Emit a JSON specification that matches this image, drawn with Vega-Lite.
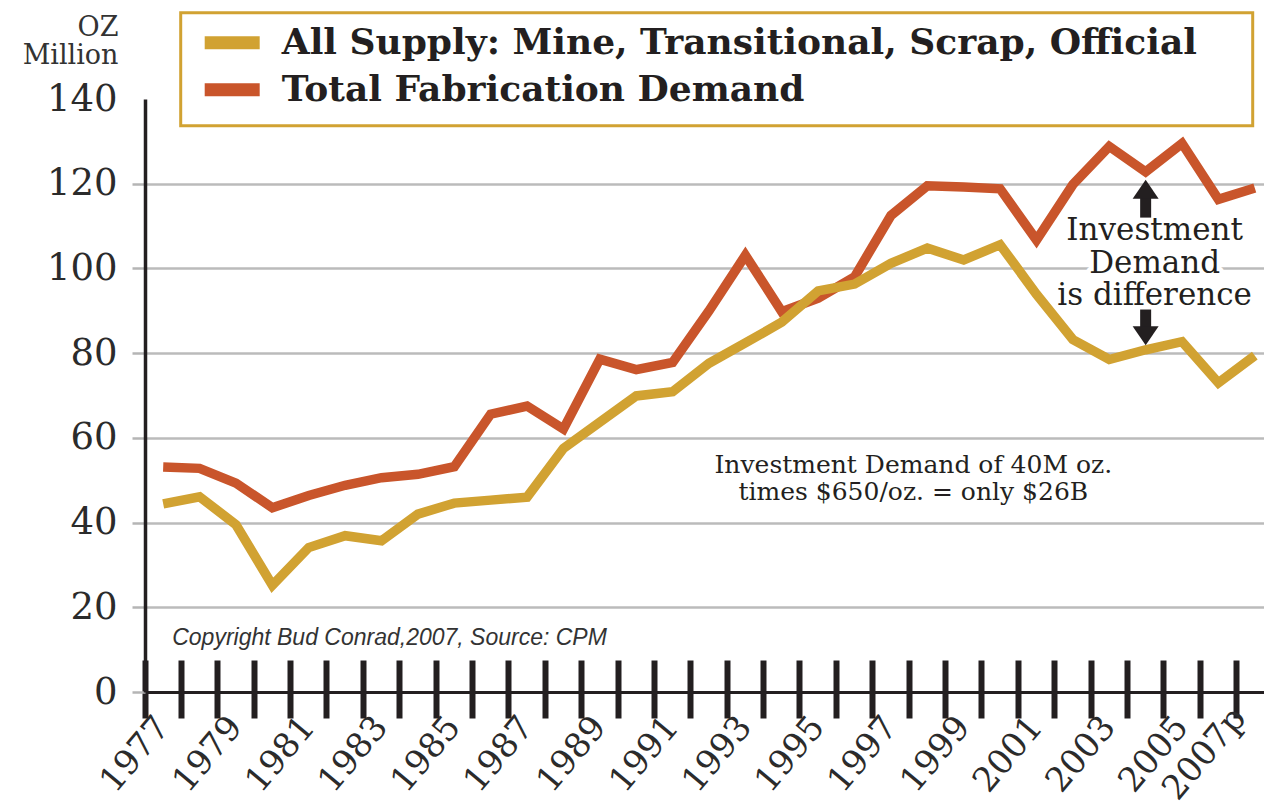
{
  "$schema": "https://vega.github.io/schema/vega-lite/v6.json",
  "width": 1119,
  "height": 593,
  "autosize": {"type": "none"},
  "padding": {"left": 145, "top": 99, "right": 0, "bottom": 113},
  "background": "white",
  "config": {"view": {"stroke": null}},
  "datasets": {
    "lines": [
      {"year": "1977", "series": "All Supply: Mine, Transitional, Scrap, Official", "value": 44.4},
      {"year": "1978", "series": "All Supply: Mine, Transitional, Scrap, Official", "value": 46.1},
      {"year": "1979", "series": "All Supply: Mine, Transitional, Scrap, Official", "value": 39.5},
      {"year": "1980", "series": "All Supply: Mine, Transitional, Scrap, Official", "value": 25.2},
      {"year": "1981", "series": "All Supply: Mine, Transitional, Scrap, Official", "value": 34.1},
      {"year": "1982", "series": "All Supply: Mine, Transitional, Scrap, Official", "value": 36.9},
      {"year": "1983", "series": "All Supply: Mine, Transitional, Scrap, Official", "value": 35.7},
      {"year": "1984", "series": "All Supply: Mine, Transitional, Scrap, Official", "value": 42.0},
      {"year": "1985", "series": "All Supply: Mine, Transitional, Scrap, Official", "value": 44.6},
      {"year": "1986", "series": "All Supply: Mine, Transitional, Scrap, Official", "value": 45.3},
      {"year": "1987", "series": "All Supply: Mine, Transitional, Scrap, Official", "value": 46.0},
      {"year": "1988", "series": "All Supply: Mine, Transitional, Scrap, Official", "value": 57.5},
      {"year": "1989", "series": "All Supply: Mine, Transitional, Scrap, Official", "value": 63.7},
      {"year": "1990", "series": "All Supply: Mine, Transitional, Scrap, Official", "value": 69.9},
      {"year": "1991", "series": "All Supply: Mine, Transitional, Scrap, Official", "value": 70.9},
      {"year": "1992", "series": "All Supply: Mine, Transitional, Scrap, Official", "value": 77.6},
      {"year": "1993", "series": "All Supply: Mine, Transitional, Scrap, Official", "value": 82.4},
      {"year": "1994", "series": "All Supply: Mine, Transitional, Scrap, Official", "value": 87.3},
      {"year": "1995", "series": "All Supply: Mine, Transitional, Scrap, Official", "value": 94.7},
      {"year": "1996", "series": "All Supply: Mine, Transitional, Scrap, Official", "value": 96.3},
      {"year": "1997", "series": "All Supply: Mine, Transitional, Scrap, Official", "value": 101.2},
      {"year": "1998", "series": "All Supply: Mine, Transitional, Scrap, Official", "value": 104.8},
      {"year": "1999", "series": "All Supply: Mine, Transitional, Scrap, Official", "value": 102.0},
      {"year": "2000", "series": "All Supply: Mine, Transitional, Scrap, Official", "value": 105.6},
      {"year": "2001", "series": "All Supply: Mine, Transitional, Scrap, Official", "value": 93.9},
      {"year": "2002", "series": "All Supply: Mine, Transitional, Scrap, Official", "value": 83.2},
      {"year": "2003", "series": "All Supply: Mine, Transitional, Scrap, Official", "value": 78.5},
      {"year": "2004", "series": "All Supply: Mine, Transitional, Scrap, Official", "value": 80.8},
      {"year": "2005", "series": "All Supply: Mine, Transitional, Scrap, Official", "value": 82.7},
      {"year": "2006", "series": "All Supply: Mine, Transitional, Scrap, Official", "value": 73.0},
      {"year": "2007p", "series": "All Supply: Mine, Transitional, Scrap, Official", "value": 79.4},
      {"year": "1977", "series": "Total Fabrication Demand", "value": 53.1},
      {"year": "1978", "series": "Total Fabrication Demand", "value": 52.8},
      {"year": "1979", "series": "Total Fabrication Demand", "value": 49.3},
      {"year": "1980", "series": "Total Fabrication Demand", "value": 43.5},
      {"year": "1981", "series": "Total Fabrication Demand", "value": 46.4},
      {"year": "1982", "series": "Total Fabrication Demand", "value": 48.8},
      {"year": "1983", "series": "Total Fabrication Demand", "value": 50.6},
      {"year": "1984", "series": "Total Fabrication Demand", "value": 51.4},
      {"year": "1985", "series": "Total Fabrication Demand", "value": 53.2},
      {"year": "1986", "series": "Total Fabrication Demand", "value": 65.6},
      {"year": "1987", "series": "Total Fabrication Demand", "value": 67.5},
      {"year": "1988", "series": "Total Fabrication Demand", "value": 62.1},
      {"year": "1989", "series": "Total Fabrication Demand", "value": 78.6},
      {"year": "1990", "series": "Total Fabrication Demand", "value": 76.1},
      {"year": "1991", "series": "Total Fabrication Demand", "value": 77.8},
      {"year": "1992", "series": "Total Fabrication Demand", "value": 90.0},
      {"year": "1993", "series": "Total Fabrication Demand", "value": 103.1},
      {"year": "1994", "series": "Total Fabrication Demand", "value": 89.8},
      {"year": "1995", "series": "Total Fabrication Demand", "value": 93.0},
      {"year": "1996", "series": "Total Fabrication Demand", "value": 98.0},
      {"year": "1997", "series": "Total Fabrication Demand", "value": 112.5},
      {"year": "1998", "series": "Total Fabrication Demand", "value": 119.5},
      {"year": "1999", "series": "Total Fabrication Demand", "value": 119.2},
      {"year": "2000", "series": "Total Fabrication Demand", "value": 118.8},
      {"year": "2001", "series": "Total Fabrication Demand", "value": 106.7},
      {"year": "2002", "series": "Total Fabrication Demand", "value": 119.8},
      {"year": "2003", "series": "Total Fabrication Demand", "value": 128.8},
      {"year": "2004", "series": "Total Fabrication Demand", "value": 122.8},
      {"year": "2005", "series": "Total Fabrication Demand", "value": 129.5},
      {"year": "2006", "series": "Total Fabrication Demand", "value": 116.3},
      {"year": "2007p", "series": "Total Fabrication Demand", "value": 119.0}
    ],
    "notes": [
      {"kind": "diff", "year": "2004", "value": 106.6, "label": "Investment\nDemand\nis difference"},
      {"kind": "worth", "year": "1998", "value": 51.6, "label": "Investment Demand of 40M oz.\ntimes $650/oz. = only $26B"},
      {"kind": "copy", "year": "1977", "value": 11, "label": "Copyright Bud Conrad,2007, Source: CPM"},
      {"kind": "shaft", "year": "2004", "value": 112.0, "value2": 117.2},
      {"kind": "shaft", "year": "2004", "value": 90.3, "value2": 85.4},
      {"kind": "up", "year": "2004", "value": 118.7},
      {"kind": "down", "year": "2004", "value": 84.1}
    ]
  },
  "encoding": {
    "x": {
      "field": "year",
      "type": "ordinal",
      "bandPosition": 0.5,
      "scale": {"type": "band", "range": [0, 1128], "paddingInner": 0, "paddingOuter": 0},
      "axis": {
        "title": null,
        "orient": "bottom",
        "offset": -32,
        "domain": false,
        "grid": false,
        "bandPosition": 0,
        "tickSize": 58,
        "tickWidth": 6,
        "tickColor": "#231f20",
        "labelAngle": -50,
        "labelAlign": "right",
        "labelBaseline": "middle",
        "labelPadding": {"condition": {"test": "datum.value == '2007p'", "value": -6}, "value": 3},
        "labelOffset": {"condition": {"test": "datum.value == '2007p'", "value": -15}, "value": 0},
        "labelFont": "DejaVu Serif",
        "labelFontSize": 34,
        "labelColor": "#2b2b2b",
        "labelOverlap": false,
        "labelFlush": false,
        "labelExpr": "parseInt(datum.value) % 2 == 1 ? datum.label : ''"
      }
    },
    "y": {
      "field": "value",
      "type": "quantitative",
      "scale": {"domain": [0, 140], "nice": false, "zero": true},
      "axis": {
        "values": [0, 20, 40, 60, 80, 100, 120, 140],
        "title": ["OZ", "Million"],
        "titleAngle": 0,
        "titleAlign": "right",
        "titleBaseline": "alphabetic",
        "titleX": -27,
        "titleY": -64,
        "titleFont": "DejaVu Serif",
        "titleFontSize": 27,
        "titleFontWeight": "normal",
        "titleColor": "#333333",
        "titleLineHeight": 28,
        "labelFont": "DejaVu Serif",
        "labelFontSize": 37,
        "labelColor": "#2b2b2b",
        "labelPadding": 15,
        "labelOverlap": false,
        "labelFlush": false,
        "tickSize": 13,
        "tickWidth": 2.5,
        "tickColor": {"condition": {"test": "datum.value == 140", "value": "transparent"}, "value": "#b5b5b5"},
        "domainColor": "#231f20",
        "domainWidth": 3.5,
        "grid": true,
        "gridColor": {"condition": [{"test": "datum.value == 0", "value": "#231f20"}, {"test": "datum.value == 140", "value": "transparent"}], "value": "#bbbbbb"},
        "gridWidth": {"condition": {"test": "datum.value == 0", "value": 3}, "value": 2.5}
      }
    }
  },
  "layer": [
    {
      "data": {"name": "lines"},
      "transform": [{"filter": "datum.series == 'Total Fabrication Demand'"}],
      "mark": {"type": "line", "strokeWidth": 9.5, "strokeJoin": "miter"},
      "encoding": {
        "color": {
          "field": "series",
          "type": "nominal",
          "scale": {"domain": ["All Supply: Mine, Transitional, Scrap, Official", "Total Fabrication Demand"], "range": ["#D1A232", "#C9552B"]},
          "legend": {
            "title": " ",
            "titleOrient": "right",
            "titlePadding": 46,
            "titleFontSize": 12,
            "orient": "none",
            "legendX": 35.7,
            "legendY": -86.3,
            "padding": 9.5,
            "symbolType": "M-2,0H2",
            "symbolSize": 756,
            "symbolStrokeWidth": 13,
            "symbolOffset": 21.5,
            "labelFont": "DejaVu Serif",
            "labelFontSize": 36,
            "labelFontWeight": "bold",
            "labelColor": "#231f20",
            "labelOffset": 29,
            "labelLimit": 2000,
            "rowPadding": -9,
            "strokeColor": "#D1A232",
            "fillColor": "white",
            "encode": {"legend": {"update": {"strokeWidth": {"value": 3}}}}
          }
        }
      }
    },
    {
      "data": {"name": "lines"},
      "transform": [{"filter": "datum.series != 'Total Fabrication Demand'"}],
      "mark": {"type": "line", "strokeWidth": 9.5, "strokeJoin": "miter"},
      "encoding": {
        "color": {"field": "series", "type": "nominal"}
      }
    },
    {
      "data": {"name": "notes"},
      "transform": [{"filter": "datum.kind == 'diff'"}],
      "mark": {"type": "text", "font": "DejaVu Serif", "fontSize": 31, "lineHeight": 32.5, "lineBreak": "\n", "align": "center", "baseline": "alphabetic", "dx": 9, "fill": "white", "stroke": "white", "strokeWidth": 9, "strokeJoin": "round"},
      "encoding": {"text": {"field": "label"}}
    },
    {
      "data": {"name": "notes"},
      "transform": [{"filter": "datum.kind == 'diff'"}],
      "mark": {"type": "text", "font": "DejaVu Serif", "fontSize": 31, "lineHeight": 32.5, "lineBreak": "\n", "align": "center", "baseline": "alphabetic", "dx": 9, "color": "#231f20"},
      "encoding": {"text": {"field": "label"}}
    },
    {
      "data": {"name": "notes"},
      "transform": [{"filter": "datum.kind == 'worth'"}],
      "mark": {"type": "text", "font": "DejaVu Serif", "fontSize": 25, "lineHeight": 27, "lineBreak": "\n", "align": "center", "baseline": "alphabetic", "dx": -14, "color": "#231f20"},
      "encoding": {"text": {"field": "label"}}
    },
    {
      "data": {"name": "notes"},
      "transform": [{"filter": "datum.kind == 'copy'"}],
      "mark": {"type": "text", "font": "Liberation Sans", "fontStyle": "italic", "fontSize": 23, "align": "left", "baseline": "alphabetic", "dx": 9, "color": "#333333"},
      "encoding": {"text": {"field": "label"}}
    },
    {
      "data": {"name": "notes"},
      "transform": [{"filter": "datum.kind == 'shaft'"}],
      "mark": {"type": "rule", "strokeWidth": 11, "color": "#231f20"},
      "encoding": {"y2": {"field": "value2"}}
    },
    {
      "data": {"name": "notes"},
      "transform": [{"filter": "datum.kind == 'up'"}],
      "mark": {"type": "point", "shape": "M0,-0.73L1,0.73L-1,0.73Z", "filled": true, "size": 676, "color": "#231f20", "opacity": 1, "strokeWidth": 0},
      "encoding": {}
    },
    {
      "data": {"name": "notes"},
      "transform": [{"filter": "datum.kind == 'down'"}],
      "mark": {"type": "point", "shape": "M0,0.73L1,-0.73L-1,-0.73Z", "filled": true, "size": 676, "color": "#231f20", "opacity": 1, "strokeWidth": 0},
      "encoding": {}
    }
  ]
}
